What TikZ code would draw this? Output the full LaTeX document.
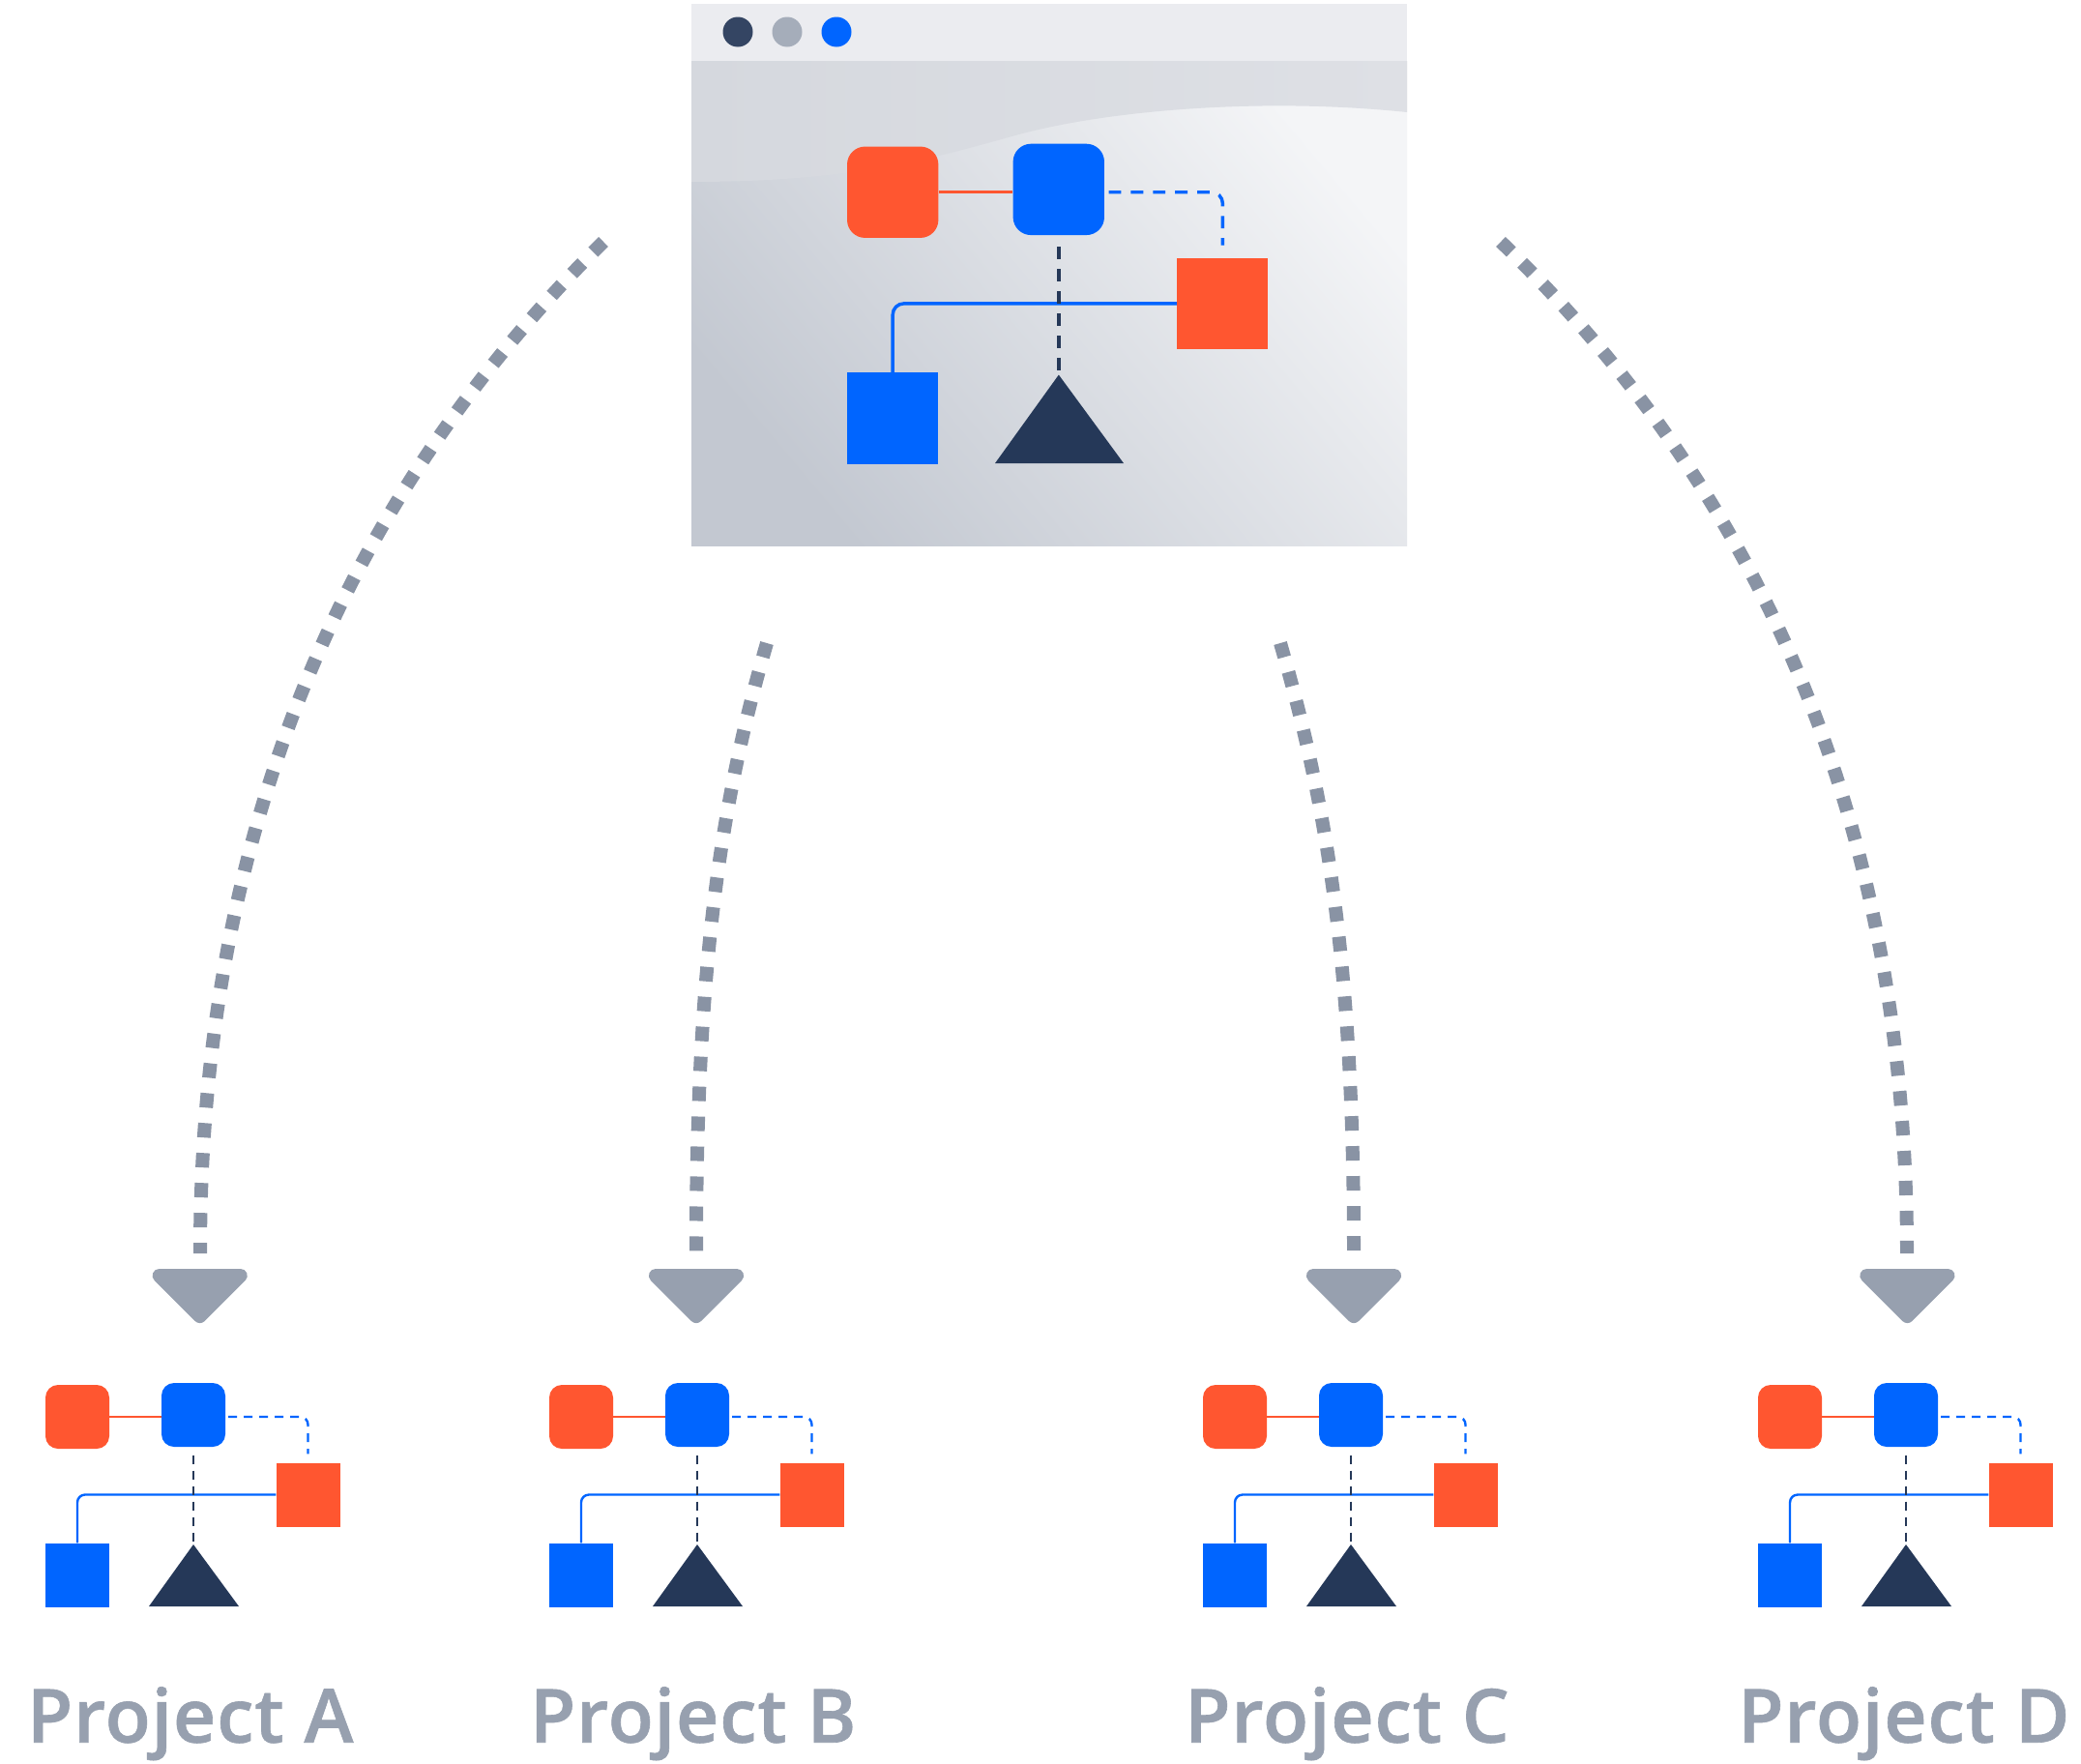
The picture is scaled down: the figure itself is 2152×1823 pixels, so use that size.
\documentclass[tikz,border=0pt]{standalone}
\usepackage{fontspec}
\IfFontExistsTF{Open Sans Semibold}{\newfontfamily\plabfont{Open Sans Semibold}[FakeBold=0.8, LetterSpace=1.2]}{\newfontfamily\plabbase{Open Sans}\newcommand\plabfont{\plabbase\bfseries}}
\definecolor{cOrange}{HTML}{FF5630}
\definecolor{cBlue}{HTML}{0065FF}
\definecolor{cNavy}{HTML}{253858}
\definecolor{cDotA}{HTML}{344563}
\definecolor{cDotB}{HTML}{A5ADBA}
\definecolor{cGrey}{HTML}{97A0AF}
\definecolor{cDotted}{HTML}{8993A4}
\definecolor{cBar}{HTML}{EBECF0}
\definecolor{cBandL}{HTML}{D5D8DE}
\definecolor{cBandR}{HTML}{DEE0E5}
\definecolor{cDark}{HTML}{C3C8D1}
\definecolor{cLight}{HTML}{F4F5F7}

% #1 prefix, #2 x, #3 y, #4 scale
\newcommand\projdiagram[4]{%
  \pgfmathsetmacro\dSz{66*#4}%
  \pgfmathsetmacro\dRc{13*#4}%
  \pgfmathsetmacro\dRl{8*#4}%
  \pgfmathsetmacro\dLw{2.4*#4}%
  \pgfmathsetmacro\dOn{9*#4}%
  \pgfmathsetmacro\dOff{7*#4}%
  \pgfmathsetmacro\dGa{3*#4}%
  \pgfmathsetmacro\dGb{9*#4}%
  \pgfmathsetmacro\dGc{8.5*#4}%
  \begin{scope}[shift={(#2,#3)}, scale=#4,
      pbox/.style={rectangle, inner sep=0pt, minimum size=\dSz pt, draw=none},
      plink/.style={line width=\dLw pt},
      pdlink/.style={line width=\dLw pt, dash pattern=on \dOn pt off \dOff pt}]
    \node[pbox, fill=cOrange, rounded corners=\dRc pt] (#1-or) at (33,35) {};
    \node[pbox, fill=cBlue, rounded corners=\dRc pt] (#1-bl) at (153,33) {};
    \node[pbox, fill=cOrange] (#1-os) at (271.5,115.5) {};
    \node[pbox, fill=cBlue] (#1-bs) at (33,198.5) {};
    \coordinate (#1-tri) at (153,167);
    \fill[cNavy] (107,231) -- (#1-tri) -- (200,231) -- cycle;
    \draw[plink, cOrange] (#1-or.east) -- (#1-or.east -| #1-bl.west);
    \draw[pdlink, cBlue, rounded corners=\dRl pt, shorten <=\dGa pt, shorten >=\dGb pt]
      (#1-or.east -| #1-bl.east) -| (#1-os.north);
    \draw[plink, cBlue, rounded corners=\dRl pt] (#1-os.west) -| (#1-bs.north);
    \draw[pdlink, cNavy, shorten <=\dGc pt] (#1-bl.south) -- (#1-tri);
  \end{scope}}

% #1 name, #2 centre x
\newcommand\arrowhead[2]{%
  \coordinate (#1) at (#2,1368);
  \filldraw[cGrey, line width=14pt, line join=round] (#2-42.1,1319) -- (#2+42.1,1319) -- (#2,1361.1) -- cycle;}

\begin{document}
\begin{tikzpicture}[x=1pt, y=-1pt,
    flowdots/.style={line width=14pt, dash pattern=on 15pt off 16pt, draw=cDotted},
    lab/.style={text=cGrey, inner sep=0pt, anchor=base, font=\plabfont\fontsize{77}{80}\selectfont},
    tdot/.style={circle, inner sep=0pt, minimum size=31pt}]
  \fill[white] (0,0) rectangle (2152,1823);
  \useasboundingbox (0,0) rectangle (2152,1823);

  % browser window
  \fill[cBar] (715,4) rectangle (1455,63);
  \shade[bottom color=cDark, top color=cLight, shading angle=-50] (715,63) rectangle (1455,564);
  \shade[left color=cBandL, right color=cBandR]
    (715,63) -- (1455,63) -- (1455,116)
    .. controls (1300,100) and (1140,115) .. (1050,140)
    .. controls (960,165) and (880,188) .. (715,188) -- cycle;
  \node[tdot, fill=cDotA] (dot1) at (763,33) {};
  \node[tdot, fill=cDotB] (dot2) at (814,33) {};
  \node[tdot, fill=cBlue] (dot3) at (865,33) {};

  \projdiagram{M}{876}{148.7}{1.43}

  % dotted flows
  \coordinate (sA) at (624,250);  \coordinate (eA) at (207,1296);
  \coordinate (sB) at (793,665);  \coordinate (eB) at (720,1294);
  \coordinate (sC) at (1324,665); \coordinate (eC) at (1400,1294);
  \coordinate (sD) at (1552,250); \coordinate (eD) at (1972,1296);
  \draw[flowdots] (sA) .. controls (330,540) and (207,900) .. (eA);
  \draw[flowdots] (sB) .. controls (745,830) and (720,1000) .. (eB);
  \draw[flowdots] (sC) .. controls (1372,830) and (1400,1000) .. (eC);
  \draw[flowdots] (sD) .. controls (1852,540) and (1972,900) .. (eD);

  \arrowhead{hA}{206.7}
  \arrowhead{hB}{720}
  \arrowhead{hC}{1400}
  \arrowhead{hD}{1972.4}

  \projdiagram{A}{47}{1430}{1}
  \projdiagram{B}{568}{1430}{1}
  \projdiagram{C}{1244}{1430}{1}
  \projdiagram{D}{1818}{1430}{1}

  \node[lab] (labA) at (196.7,1801.7) {Project A};
  \node[lab] (labB) at (716.7,1801.7) {Project B};
  \node[lab] (labC) at (1393,1801.7) {Project C};
  \node[lab] (labD) at (1968.8,1801.7) {Project D};
\end{tikzpicture}
\end{document}
